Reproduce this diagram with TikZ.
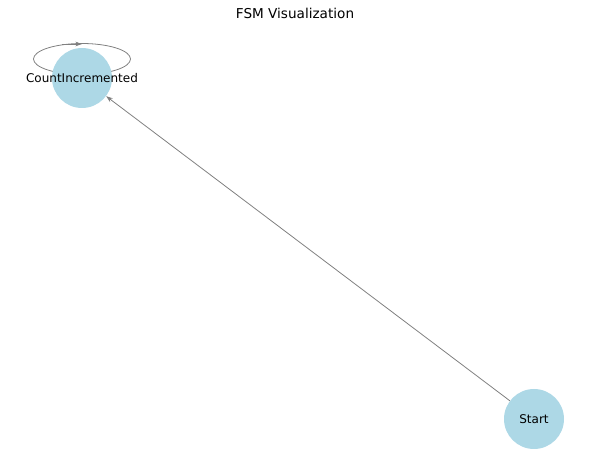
\documentclass[tikz,border=0pt]{standalone}
\usepackage{fontspec}
\setmainfont{DejaVu Sans}
\usetikzlibrary{arrows.meta,backgrounds}
\definecolor{lightblue}{RGB}{173,216,230}
\definecolor{edgegray}{RGB}{128,128,128}
\begin{document}
\begin{tikzpicture}[x=0.75pt,y=-0.75pt]
        \tikzstyle{state}=[circle, fill=lightblue, inner sep=0pt, minimum size=45pt, label distance=0pt]
        \tikzstyle{edge}=[edgegray, line width=0.6pt, -{Stealth[length=5pt,width=3.5pt]}]
        \useasboundingbox (0,0) rectangle (590,463);

        \node[font=\fontsize{10.2}{12}\selectfont] (title) at (295,13) {FSM Visualization};

        \node[state, label={[font=\fontsize{9}{11}\selectfont]center:CountIncremented}] (ci) at (82,78) {};
        \node[state, label={[font=\fontsize{9}{11}\selectfont]center:Start}] (start) at (534,419) {};

        \coordinate (loopc) at (82,59);
        \coordinate (loopa) at (62,44);
        \coordinate (loopb) at (82,44);

        \draw[edge] (start) -- (ci);

        \begin{scope}[on background layer]
        \draw[edgegray, line width=0.6pt] (loopc) ellipse [x radius=48.5, y radius=15.5];
        \end{scope}
        \draw[edge] (loopa) -- (loopb);
    \end{tikzpicture}
\end{document}
